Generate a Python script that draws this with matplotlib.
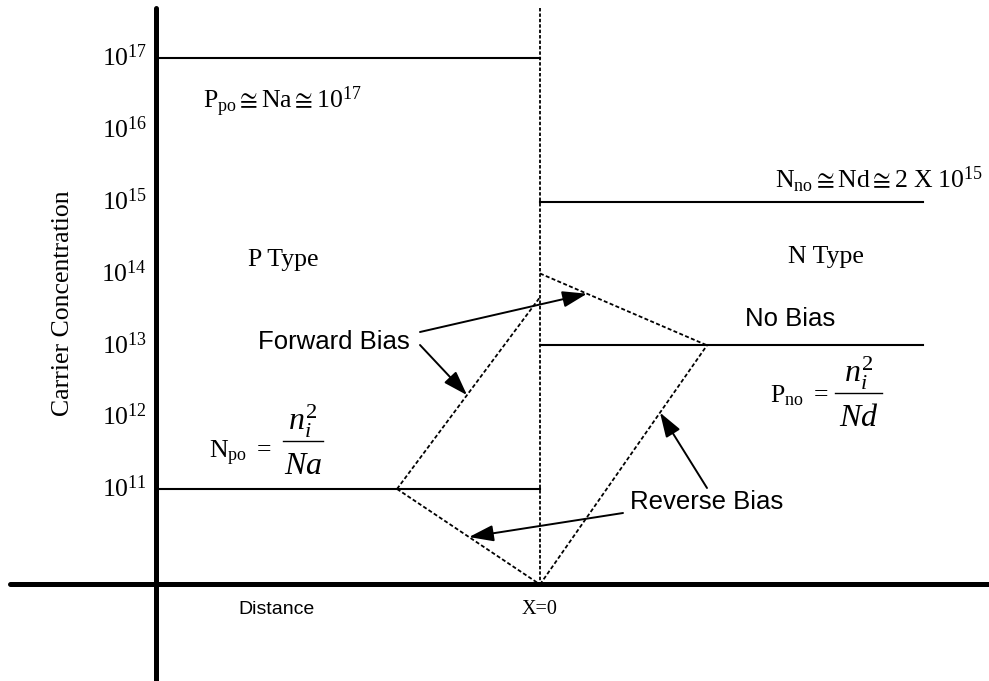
import numpy as np
import matplotlib
matplotlib.use('Agg')
import matplotlib.pyplot as plt
from matplotlib.lines import Line2D

plt.rcParams['font.family'] = ['Liberation Serif', 'DejaVu Serif']
plt.rcParams['mathtext.fontset'] = 'custom'
plt.rcParams['mathtext.rm'] = 'Liberation Serif'
plt.rcParams['mathtext.it'] = 'Liberation Serif:italic'

W, H = 989, 681

# 데이터 (x: X=0 기준 거리, y: 농도)
exponents = [11, 12, 13, 14, 15, 16, 17]
p_x = [-382, 0]
n_x = [0, 383]
Na = 1e17          # P쪽 다수캐리어
Nd_line = 1e15     # N쪽 다수캐리어
np0 = 1e11         # P쪽 소수캐리어
pn0 = 1e13         # N쪽 소수캐리어
axis_level = 10 ** 9.67

fwd_p_x = [-143, 0]
fwd_p_y = [1e11, 10 ** 13.67]
fwd_n_x = [0, 167]
fwd_n_y = [1e14, 1e13]
rev_p_x = [-143, 0]
rev_p_y = [1e11, axis_level]
rev_n_x = [0, 167]
rev_n_y = [axis_level, 1e13]

y_axis_x = -384
y_top = 10 ** 17.697
y_bottom = 10 ** 8.326
y_max = 10 ** 17.808


def on_line(x, xs, ys):
    return x, 10 ** np.interp(x, xs, np.log10(ys))


def fpx(x, y):
    # 픽셀(좌상단 기준) -> figure 좌표
    return x / W, 1 - y / H


fig = plt.figure(figsize=(W / 100, H / 100), dpi=100)
ax = fig.add_axes([0, 0, 1, 1])
ax.set_yscale('log')
ax.set_xlim(-540, 449)
ax.set_ylim(y_bottom, y_max)
ax.axis('off')

# 굵은 축
ax.plot([y_axis_x, y_axis_x], [y_top, y_bottom], color='k', lw=3.6,
        solid_capstyle='round', clip_on=False)
ax.plot([-530, 449], [axis_level, axis_level], color='k', lw=3.6,
        solid_capstyle='round', clip_on=False)

# 농도 수평선
ax.plot(p_x, [Na, Na], color='k', lw=1.5)
ax.plot(p_x, [np0, np0], color='k', lw=1.5)
ax.plot(n_x, [Nd_line, Nd_line], color='k', lw=1.5)
ax.plot(n_x, [pn0, pn0], color='k', lw=1.5)

# 접합면 점선
ax.plot([0, 0], [y_top, axis_level], color='k', lw=1.3,
        linestyle=(0, (1.9, 1.1)))

for xs, ys in [(fwd_p_x, fwd_p_y), (fwd_n_x, fwd_n_y),
               (rev_p_x, rev_p_y), (rev_n_x, rev_n_y)]:
    ax.plot(xs, ys, color='k', lw=1.3, linestyle=(0, (2.2, 1.3)))

# 눈금 라벨
for e in exponents:
    ax.text(-393, 10 ** e, r'$10^{%d}$' % e, fontsize=18.5,
            ha='right', va='center')

fig.text(*fpx(63, 303), 'Carrier Concentration', fontsize=18.5,
         rotation=90, ha='center', va='center')

# 텍스트
fig.text(*fpx(203, 108), r'$\mathrm{P_{po}} \cong \mathrm{Na} \cong 10^{17}$',
         fontsize=18.5, ha='left', va='baseline')
fig.text(*fpx(775, 188), r'$\mathrm{N_{no}} \cong \mathrm{Nd} \cong 2\ \mathrm{X}\ 10^{15}$',
         fontsize=18.5, ha='left', va='baseline')
fig.text(*fpx(248, 266), 'P Type', fontsize=18.5, ha='left', va='baseline')
fig.text(*fpx(788, 263), 'N Type', fontsize=18.5, ha='left', va='baseline')

sans = 'Liberation Sans'
fig.text(*fpx(258, 349), 'Forward Bias', fontsize=18.5, family=sans,
         ha='left', va='baseline')
fig.text(*fpx(745, 326), 'No Bias', fontsize=18.5, family=sans,
         ha='left', va='baseline')
fig.text(*fpx(630, 509), 'Reverse Bias', fontsize=18.5, family=sans,
         ha='left', va='baseline')
fig.text(*fpx(277, 610), 'Distance', fontsize=14, family=sans,
         ha='center', va='center')
fig.text(*fpx(540, 610), 'X=0', fontsize=14.5, ha='center', va='center')

# 분수식
for lhs, den, x0, base, bar_x0, bar_x1, bar_y in [
        ('N', 'Na', 209, 458, 283, 323, 441),
        ('P', 'Nd', 770, 402, 835, 882, 393)]:
    sub = 'po' if lhs == 'N' else 'no'
    fig.text(*fpx(x0, base), r'$\mathrm{%s_{%s}}\ =$' % (lhs, sub),
             fontsize=18.5, ha='left', va='baseline')
    cx = (bar_x0 + bar_x1) / 2
    fig.add_artist(Line2D([bar_x0 / W, bar_x1 / W], [1 - bar_y / H] * 2,
                          transform=fig.transFigure, color='k', lw=1.0))
    fig.text(*fpx(cx, bar_y - 11), r'$n_i^2$', fontsize=23,
             ha='center', va='baseline')
    fig.text(*fpx(cx, bar_y + 33), r'$%s$' % den, fontsize=23,
             ha='center', va='baseline')

# 화살표
arrows = [
    (on_line(47, fwd_n_x, fwd_n_y), (420, 332)),
    (on_line(-73, fwd_p_x, fwd_p_y), (420, 345)),
    (on_line(120, rev_n_x, rev_n_y), (707, 488)),
    (on_line(-71, rev_p_x, rev_p_y), (623, 513)),
]
for tip, tail in arrows:
    ax.annotate('', xy=tip, xycoords='data',
                xytext=(tail[0], H - tail[1]), textcoords='figure pixels',
                arrowprops=dict(arrowstyle='-|>,head_length=0.75,head_width=0.25',
                                lw=1.4, color='k', mutation_scale=20,
                                shrinkA=0, shrinkB=0))

fig.savefig('out.png', dpi=100)
